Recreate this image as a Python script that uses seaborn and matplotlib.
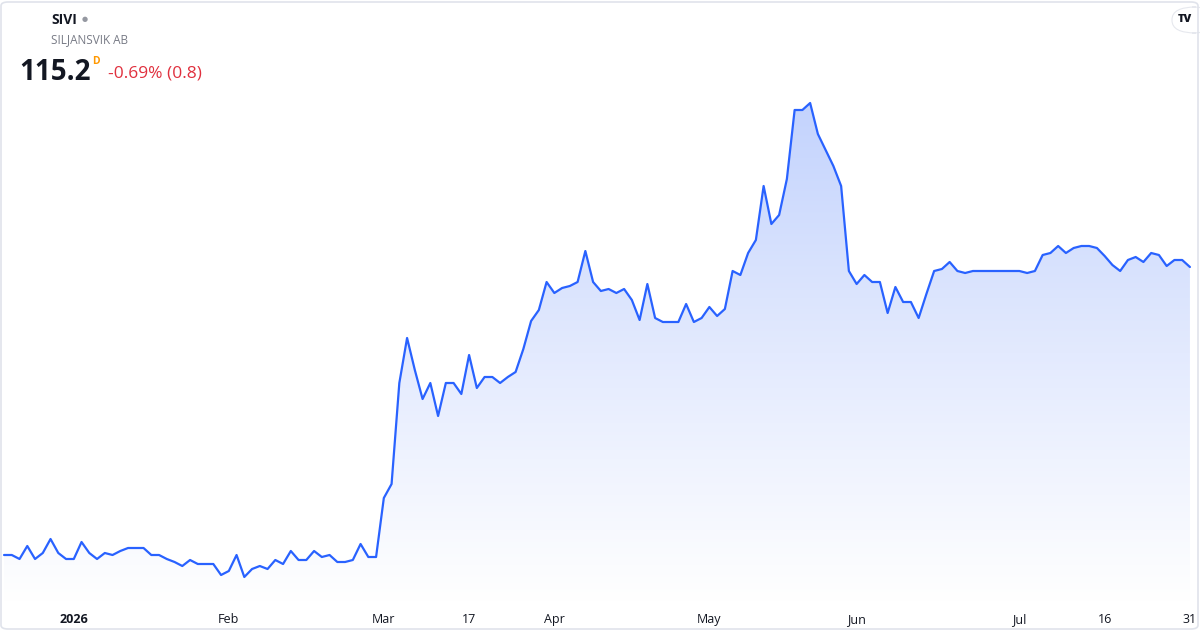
import numpy as np
import pandas as pd
import matplotlib
matplotlib.use("Agg")
import matplotlib.pyplot as plt
import seaborn as sns
from matplotlib.patches import FancyBboxPatch

# Daily closes for SIVI, trading days from late Dec 2025 to 31 Jul 2026
closes_winter = [57.6, 57.6, 56.8, 59.4, 56.8, 58.0, 60.8, 58.0, 56.8, 56.8,
                 60.2, 58.0, 56.8, 58.0, 57.6, 58.4, 59.0, 59.0, 59.0, 57.6,
                 57.6, 56.8, 56.2, 55.4, 56.6, 55.8, 55.8, 55.8, 53.6, 54.4,
                 57.6, 53.2, 54.8, 55.4, 54.8, 56.6, 55.8, 58.4, 56.6, 56.6,
                 58.4, 57.2, 57.6, 56.2, 56.2, 56.6, 59.8, 57.2, 57.2]
closes_spring = [69.0, 71.8, 92.0, 101.0, 94.6, 88.8, 92.0, 85.4, 92.0, 92.0,
                 89.8, 97.6, 91.0, 93.2, 93.2, 92.0, 93.2, 94.2, 98.8, 104.4,
                 106.6, 112.2, 110.0, 111.0, 111.4, 112.2, 118.4, 112.2, 110.4, 110.8,
                 110.0, 110.8, 108.6, 104.6, 111.8, 105.0, 104.2, 104.2, 104.2, 107.8,
                 104.2, 105.0, 107.2, 105.4, 106.8, 114.4, 113.6, 118.0, 120.6]
closes_summer = [131.4, 123.8, 125.6, 132.8, 146.6, 146.6, 148.0, 141.8, 138.6, 135.4,
                 131.4, 114.4, 111.8, 113.6, 112.2, 112.2, 106.0, 111.2, 108.2, 108.2,
                 105.0, 109.8, 114.4, 114.8, 116.2, 114.4, 114.0, 114.4, 114.4, 114.4,
                 114.4, 114.4, 114.4, 114.4, 114.0, 114.4, 117.6, 118.0, 119.4, 118.0,
                 119.0, 119.4, 119.4, 119.0, 117.4, 115.6, 114.4, 116.6, 117.2, 116.2,
                 118.0, 117.6, 115.4, 116.6, 116.6, 115.2]

tick_days = [9, 29, 49, 60, 71, 91, 110, 131, 142, 153]
tick_labels = ["2026", "Feb", "Mar", "17", "Apr", "May", "Jun", "Jul", "16", "31"]

closes = closes_winter + closes_spring + closes_summer
df = pd.DataFrame({"day": np.arange(len(closes)), "close": closes})

line_color = "#2962ff"
y_min, y_max = 48.2, 168.6

sns.set_style("white")
plt.rcParams["font.family"] = ["Open Sans", "DejaVu Sans"]

fig = plt.figure(figsize=(12, 6.3), dpi=100)
ax = fig.add_axes([0, 28 / 630, 1, 602 / 630])

# gradient area under the line
poly = ax.fill_between(df["day"], df["close"], y_min, color="none", lw=0)
grad = np.linspace(0, 1, 256).reshape(-1, 1)
cmap = matplotlib.colors.LinearSegmentedColormap.from_list(
    "tvfill", ["#ffffff", "#e3eafe", "#c3d3fd"])
img = ax.imshow(grad, cmap=cmap, aspect="auto", origin="lower",
                extent=[df["day"].min(), df["day"].max(), y_min, df["close"].max()],
                zorder=1)
img.set_clip_path(poly.get_paths()[0], transform=ax.transData)

sns.lineplot(data=df, x="day", y="close", ax=ax, color=line_color, lw=1.6, zorder=3)

ax.set_xlim(-0.52, 154.3)
ax.set_ylim(y_min, y_max)
ax.set_xlabel("")
ax.set_ylabel("")
ax.set_yticks([])
ax.set_xticks(tick_days)
ax.set_xticklabels(tick_labels)
ax.tick_params(axis="x", length=0, pad=8, labelsize=9, labelcolor="#131722")
ax.get_xticklabels()[0].set_fontweight("bold")
for s in ax.spines.values():
    s.set_visible(False)

# header
fig.text(51 / 1200, 1 - 20 / 630, "SIVI", fontsize=10, fontweight="bold",
         color="#131722", va="center", ha="left")
fig.text(82 / 1200, 1 - 20 / 630, "\u25CF", fontsize=5, color="#9598a1",
         va="center", ha="left")
fig.text(51 / 1200, 1 - 40 / 630, "SILJANSVIK AB", fontsize=8.5, color="#787b86",
         va="center", ha="left")
fig.text(19 / 1200, 1 - 72 / 630, "115.2", fontsize=20, fontweight="bold",
         color="#131722", va="center", ha="left")
fig.text(92 / 1200, 1 - 61 / 630, "D", fontsize=7.5, fontweight="bold",
         color="#ff9800", va="center", ha="left")
fig.text(108 / 1200, 1 - 74 / 630, "-0.69% (0.8)", fontsize=12.5, color="#e0303e",
         va="center", ha="left")

# logo badge top right
badge = FancyBboxPatch((1172 / 1200, 1 - 33 / 630), 44 / 1200, 26 / 630,
                       boxstyle="round,pad=0,rounding_size=0.02",
                       transform=fig.transFigure, fc="white", ec="#e6e8ee", lw=0.8,
                       zorder=5)
fig.patches.append(badge)
fig.text(1185 / 1200, 1 - 20 / 630, "TV", fontsize=8, fontweight="heavy",
         color="#131722", va="center", ha="center", zorder=6)

# card border
border = FancyBboxPatch((1 / 1200, 1 / 630), 1197 / 1200, 627 / 630,
                        boxstyle="round,pad=0,rounding_size=0.006",
                        transform=fig.transFigure, fc="none", ec="#e0e3eb", lw=1.2,
                        zorder=10)
fig.patches.append(border)

fig.savefig("out.png", dpi=100, facecolor="white")
